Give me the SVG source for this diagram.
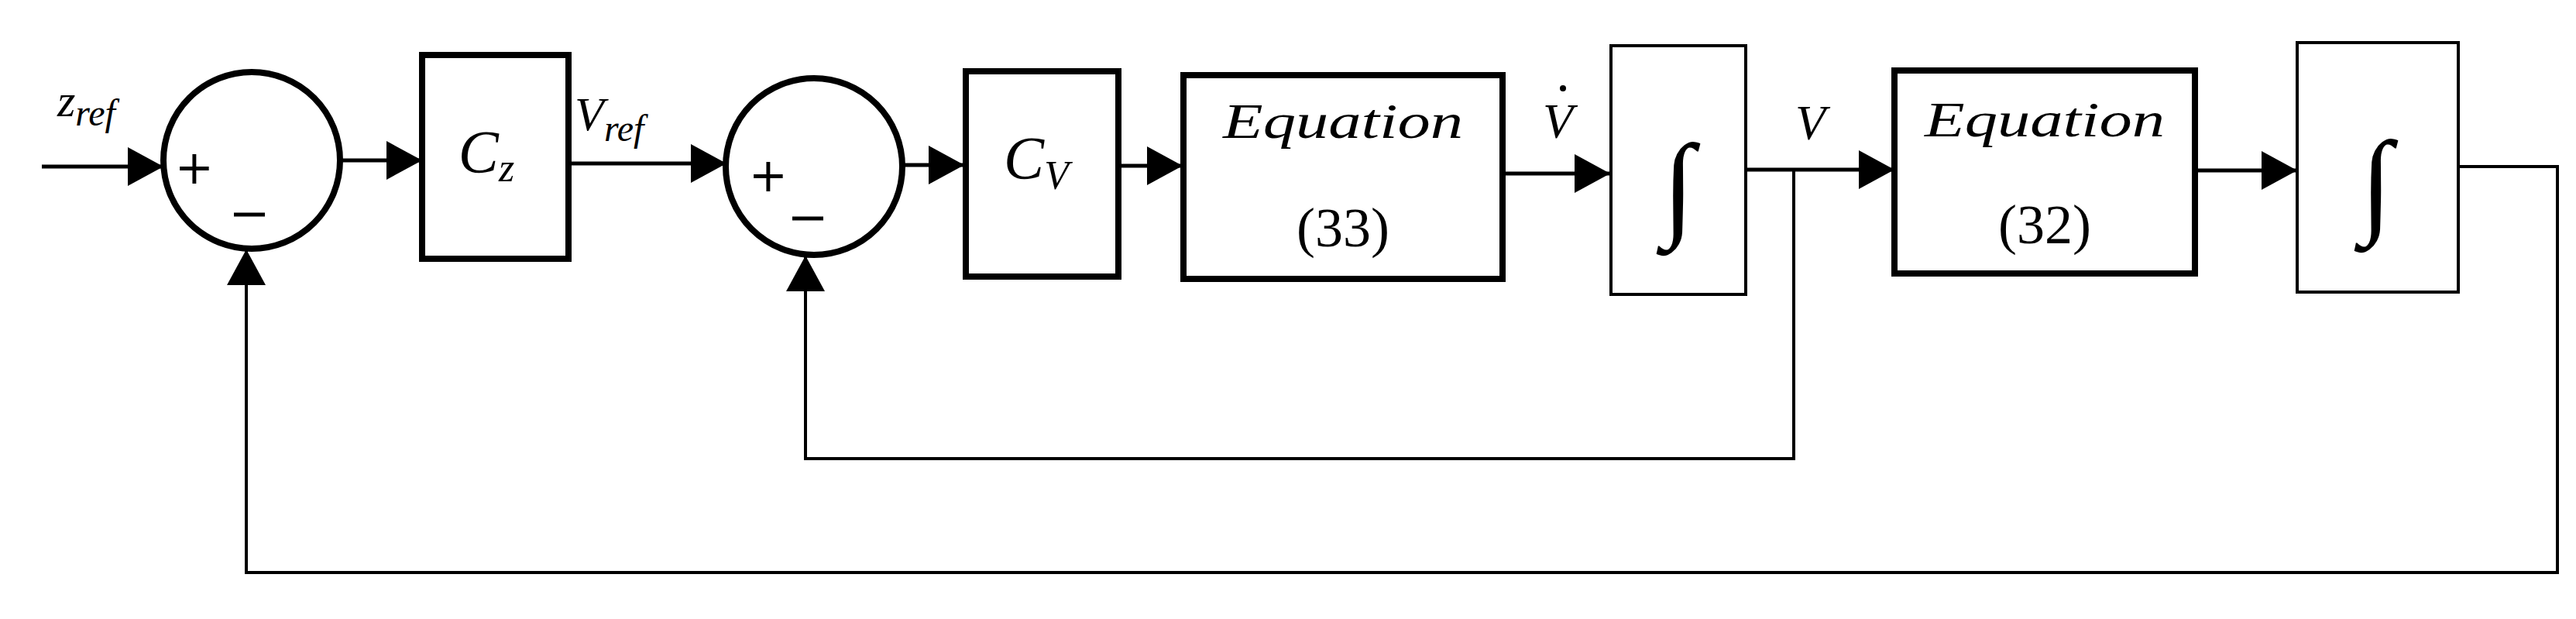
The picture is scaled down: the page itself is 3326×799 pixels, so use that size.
<svg xmlns="http://www.w3.org/2000/svg" width="3326" height="799" viewBox="0 0 3326 799">
<style>
.thick{fill:#fff;stroke:#000;stroke-width:8}
.thin{fill:#fff;stroke:#000;stroke-width:4}
.ln{fill:none;stroke:#000;stroke-width:5}
.fb{fill:none;stroke:#000;stroke-width:4}
.m{font-family:"Liberation Serif","DejaVu Serif",serif;font-style:italic;fill:#000}
.n{font-family:"Liberation Serif","DejaVu Serif",serif;fill:#000}
.s{font-family:"DejaVu Sans",sans-serif;fill:#000}
</style>
<defs>
<marker id="ah" markerUnits="userSpaceOnUse" markerWidth="48" markerHeight="50" refX="46" refY="25" orient="auto">
<path d="M0,0 L46,25 L0,50 Z" fill="#000"/>
</marker>
</defs>
<g id="connectors">
<line class="ln" x1="54" y1="215" x2="211" y2="215" marker-end="url(#ah)"/>
<line class="ln" x1="439" y1="207" x2="545" y2="207" marker-end="url(#ah)"/>
<line class="ln" x1="734" y1="211" x2="938" y2="211" marker-end="url(#ah)"/>
<line class="ln" x1="1165" y1="213" x2="1245" y2="213" marker-end="url(#ah)"/>
<line class="ln" x1="1444" y1="214" x2="1527" y2="214" marker-end="url(#ah)"/>
<line class="ln" x1="1940" y1="224" x2="2079" y2="224" marker-end="url(#ah)"/>
<line class="ln" x1="2254" y1="219" x2="2446" y2="219" marker-end="url(#ah)"/>
<line class="ln" x1="2834" y1="220" x2="2966" y2="220" marker-end="url(#ah)"/>
<polyline class="fb" points="2316,219 2316,592 1040,592 1040,330" marker-end="url(#ah)"/>
<polyline class="fb" points="3174,215 3302,215 3302,739 318,739 318,322" marker-end="url(#ah)"/>
</g>
<g id="sum1">
<circle class="thick" cx="325" cy="207" r="114"/>
<text class="s" x="251" y="237" font-size="60" text-anchor="middle">+</text>
<line x1="302" y1="277" x2="342" y2="277" stroke="#000" stroke-width="5"/>
</g>
<g id="Cz">
<rect class="thick" x="545" y="71" width="189" height="263"/>
<text class="m" x="628" y="222" font-size="78" text-anchor="middle">C<tspan font-size="52" dy="12">z</tspan></text>
</g>
<g id="sum2">
<circle class="thick" cx="1051" cy="215" r="114"/>
<text class="s" x="992" y="247" font-size="60" text-anchor="middle">+</text>
<line x1="1023" y1="282" x2="1063" y2="282" stroke="#000" stroke-width="5"/>
</g>
<g id="Cv">
<rect class="thick" x="1247" y="92" width="197" height="265"/>
<text class="m" x="1338" y="230" font-size="78" text-anchor="middle">C<tspan font-size="52" dy="14">V</tspan></text>
</g>
<g id="eq33">
<rect class="thick" x="1528" y="97" width="412" height="263"/>
<text class="m" x="1734" y="178" font-size="64" text-anchor="middle" textLength="310" lengthAdjust="spacingAndGlyphs">Equation</text>
<text class="n" x="1734" y="318" font-size="72" text-anchor="middle">(33)</text>
</g>
<g id="int1">
<rect class="thin" x="2080" y="59" width="174" height="321"/>
<text class="m" x="2167" y="290" font-size="150" text-anchor="middle" font-style="normal" font-family="DejaVu Serif,serif">∫</text>
</g>
<g id="eq32">
<rect class="thick" x="2446" y="91" width="388" height="262"/>
<text class="m" x="2640" y="176" font-size="64" text-anchor="middle" textLength="310" lengthAdjust="spacingAndGlyphs">Equation</text>
<text class="n" x="2640" y="314" font-size="72" text-anchor="middle">(32)</text>
</g>
<g id="int2">
<rect class="thin" x="2966" y="55" width="208" height="322"/>
<text class="m" x="3068" y="286" font-size="150" text-anchor="middle" font-style="normal" font-family="DejaVu Serif,serif">∫</text>
</g>
<g id="labels">
<text class="m" x="74" y="150" font-size="60">z<tspan font-size="48" dy="12">ref</tspan></text>
<text class="m" x="742" y="168" font-size="62">V<tspan font-size="48" dy="14">ref</tspan></text>
<text class="m" x="1992" y="178" font-size="64">V</text>
<circle cx="2018" cy="114" r="4" fill="#000"/>
<text class="m" x="2318" y="180" font-size="64">V</text>
</g>
</svg>
